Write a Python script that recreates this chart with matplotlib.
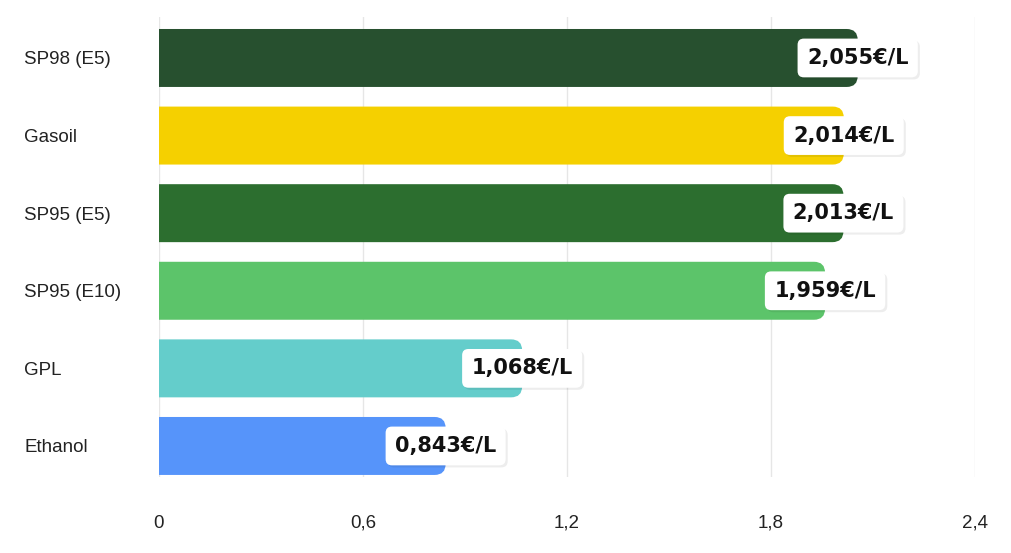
import matplotlib
matplotlib.use("Agg")
import matplotlib.pyplot as plt
from matplotlib.patches import FancyBboxPatch
import matplotlib.patheffects as pe

categories = ["SP98 (E5)", "Gasoil", "SP95 (E5)", "SP95 (E10)", "GPL", "Ethanol"]
values = [2.055, 2.014, 2.013, 1.959, 1.068, 0.843]
labels = ["2,055€/L", "2,014€/L", "2,013€/L", "1,959€/L", "1,068€/L", "0,843€/L"]
colors = ["#27502F", "#F5D000", "#2C6E2F", "#5CC46A", "#64CDCB", "#5694FA"]
xticks = [0, 0.6, 1.2, 1.8, 2.4]
xticklabels = ["0", "0,6", "1,2", "1,8", "2,4"]

W, H = 1012, 553
fig = plt.figure(figsize=(W / 100, H / 100), dpi=100)
ax = fig.add_axes([159 / W, 1 - 477 / H, (975 - 159) / W, (477 - 17) / H])
ax.set_xlim(0, 2.4)
ax.set_ylim(5.40, -0.528)

bar_h = 0.747
px_x = 2.4 / (975 - 159)
px_y = (5.40 + 0.528) / (477 - 17)
r = 11 * px_x
aspect = px_y / px_x

for i, (v, c, lab) in enumerate(zip(values, colors, labels)):
    p = FancyBboxPatch((-3 * r, i - bar_h / 2), v + 3 * r, bar_h,
                       boxstyle=f"round,pad=0,rounding_size={r}",
                       mutation_aspect=aspect, fc=c, ec="none", zorder=2)
    ax.add_patch(p)
    t = ax.text(v, i, lab, ha="center", va="center", fontsize=15, fontweight="bold",
                family="DejaVu Sans", color="#111111",
                bbox=dict(boxstyle="round,pad=0.45,rounding_size=0.3",
                          fc="white", ec="none"), zorder=4)
    t.get_bbox_patch().set_path_effects([
        pe.SimplePatchShadow(offset=(1.5, -1.5), shadow_rgbFace="black", alpha=0.07),
        pe.Normal()])

ax.set_xticks(xticks)
ax.set_xticklabels(xticklabels, fontsize=13.5, family="Liberation Sans", color="#222222")
ax.set_yticks(range(len(categories)))
ax.set_yticklabels(categories, fontsize=13.5, family="Liberation Sans", color="#222222")
for tl in ax.get_yticklabels():
    tl.set_ha("left")
ax.tick_params(axis="y", length=0, pad=135 * 0.72)
ax.tick_params(axis="x", length=0, pad=27)
ax.grid(axis="x", color="#e6e6e6", linewidth=1, zorder=0)
ax.set_axisbelow(True)
for s in ax.spines.values():
    s.set_visible(False)

fig.savefig("out.png", dpi=100)
